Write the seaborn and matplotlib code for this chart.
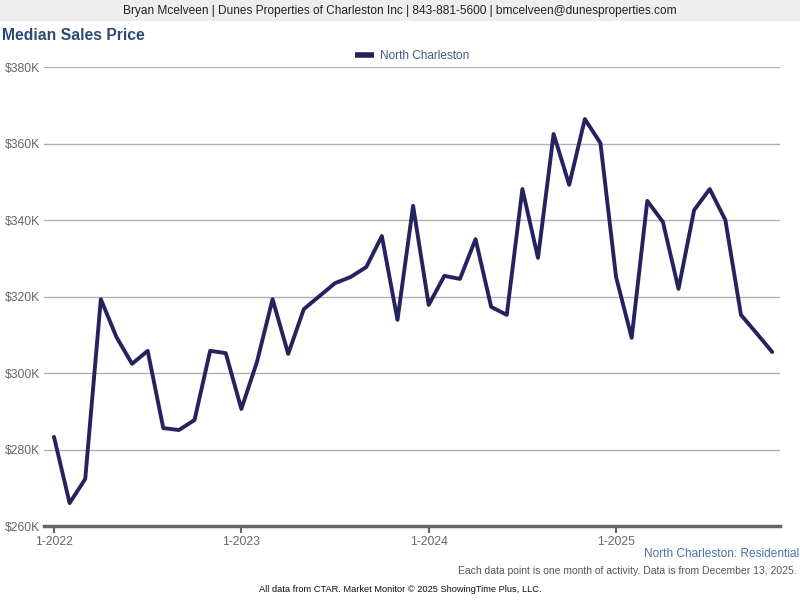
import pandas as pd
import matplotlib.pyplot as plt
import seaborn as sns
from matplotlib.patches import Rectangle
from matplotlib.ticker import FuncFormatter

# Median sales price, North Charleston, monthly Jan 2022 - Nov 2025 (in $K)
months = pd.period_range('2022-01', '2025-11', freq='M').strftime('%-m-%Y').tolist()
median_price = [
    283.3, 266.0, 272.3, 319.3, 309.4, 302.4, 305.8, 285.6, 285.1, 287.7, 305.8, 305.2,
    290.6, 302.9, 319.3, 305.0, 316.7, 320.1, 323.5, 325.1, 327.7, 335.8, 313.9, 343.7,
    317.8, 325.4, 324.6, 335.0, 317.3, 315.2, 348.1, 330.1, 362.5, 349.2, 366.4, 360.1,
    325.1, 309.2, 345.0, 339.5, 322.0, 342.6, 348.1, 340.0, 315.2, 310.4, 305.5,
]
tick_labels = ['1-2022', '1-2023', '1-2024', '1-2025']
y_ticks = [260, 280, 300, 320, 340, 360, 380]

df = pd.DataFrame({'idx': range(len(months)), 'month': months, 'price': median_price})

sns.set_theme(style='white')
plt.rcParams['font.family'] = ['Liberation Sans', 'DejaVu Sans']

fig = plt.figure(figsize=(8, 6), dpi=100)
ax = fig.add_axes([0.055, 0.1233, 0.92, 0.765])

sns.lineplot(data=df, x='idx', y='price', ax=ax, color='#25225f', linewidth=2.8,
             label='North Charleston', legend=False)

ax.set_xlim(-0.64, 46.5)
ax.set_ylim(260, 380)
ax.set_yticks(y_ticks)
ax.yaxis.set_major_formatter(FuncFormatter(lambda v, p: f'${int(v)}K'))
ax.set_xticks([0, 12, 24, 36])
ax.set_xticklabels(tick_labels)
ax.tick_params(axis='y', length=0, labelsize=8.7, labelcolor='#666666', pad=3)
ax.tick_params(axis='x', length=5, width=1.5, color='#666666', labelsize=8.7,
               labelcolor='#666666', pad=2, bottom=True, direction='out')
ax.set_xlabel('')
ax.set_ylabel('')
ax.grid(axis='y', color='#b0b0b0', linewidth=1)
for s in ['top', 'right', 'left']:
    ax.spines[s].set_visible(False)
ax.spines['bottom'].set_color('#666666')
ax.spines['bottom'].set_linewidth(2.5)
ax.set_axisbelow(True)

leg = ax.legend(loc='lower center', bbox_to_anchor=(0.5, 1.0), frameon=False,
                fontsize=8.5, handlelength=1.6, handletextpad=0.5, borderaxespad=0.0)
for t in leg.get_texts():
    t.set_color('#3b5a8a')
for h in leg.get_lines():
    h.set_linewidth(4)
    h.set_solid_capstyle('butt')

# header band
fig.patches.append(Rectangle((0, 1 - 20 / 600), 1, 20 / 600, transform=fig.transFigure,
                             color='#eeeeee', zorder=0))
fig.text(0.5, 1 - 11 / 600,
         'Bryan Mcelveen | Dunes Properties of Charleston Inc | 843-881-5600 | bmcelveen@dunesproperties.com',
         ha='center', va='center', fontsize=8.6, color='#222222')
fig.text(0.002, 1 - 35 / 600, 'Median Sales Price', ha='left', va='center',
         fontsize=11.3, fontweight='bold', color='#2c4a78')

fig.text(0.999, 1 - 554 / 600, 'North Charleston: Residential', ha='right', va='center',
         fontsize=8.6, color='#4a70a8')
fig.text(0.996, 1 - 571 / 600,
         'Each data point is one month of activity. Data is from December 13, 2025.',
         ha='right', va='center', fontsize=7.5, color='#555555')
fig.text(0.5, 1 - 589 / 600, 'All data from CTAR. Market Monitor \u00a9 2025 ShowingTime Plus, LLC.',
         ha='center', va='center', fontsize=6.7, color='#111111')

fig.savefig('out.png', dpi=100)
